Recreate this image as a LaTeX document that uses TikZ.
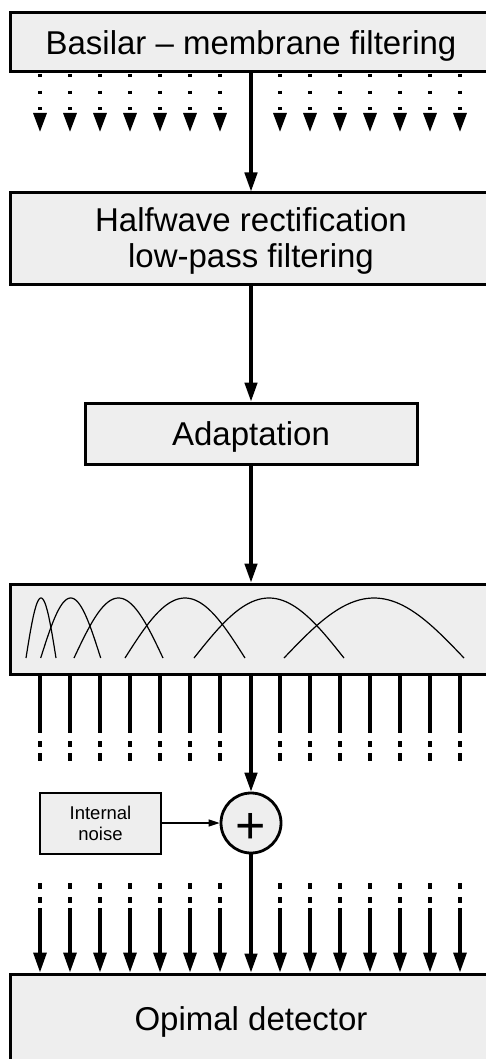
\documentclass[tikz,border=0pt]{standalone}
\usepackage{fontspec}
\setmainfont{Liberation Sans}
\usetikzlibrary{arrows.meta}
\definecolor{boxfill}{RGB}{238,238,238}
\begin{document}
\begin{tikzpicture}[x=1pt,y=-1pt,
  block/.style={draw, line width=3pt, fill=boxfill, inner sep=0pt,
    font=\fontsize{33}{37}\selectfont, text height=24pt, text depth=0pt},
  bigtext/.style={font=\fontsize{33}{37}\selectfont, inner sep=0pt, anchor=base},
  noisebox/.style={draw, line width=2pt, fill=boxfill, inner sep=0pt,
    align=center, font=\fontsize{18.5}{21}\selectfont},
  sumnode/.style={draw, circle, line width=2.8pt, fill=boxfill, inner sep=0pt,
    minimum size=60pt},
  plussign/.style={font=\fontsize{52}{52}\selectfont, inner sep=0pt, anchor=base},
  mainarrow/.style={line width=3.2pt, -{Triangle[length=19pt,width=12.5pt]}},
  thinarrow/.style={line width=1.2pt, -{Triangle[length=11pt,width=7pt]}},
  dotarrow/.style={line width=3.2pt, dash pattern=on 3.2pt off 13.4pt,
    -{Triangle[length=19pt,width=13pt]}},
  bandout/.style={line width=3.2pt,
    dash pattern=on 58pt off 8pt on 6pt off 6pt on 8pt off 60pt},
  bandin/.style={line width=3.2pt,
    dash pattern=on 6pt off 8pt on 6pt off 5pt on 200pt off 10pt,
    -{Triangle[length=20pt,width=13pt]}},
  response/.style={line width=1.2pt}]
\useasboundingbox (0,0) rectangle (486,1059);

% processing stages
\node[block, minimum width=482pt, minimum height=59pt] (bm) at (251,42.5)
  {Basilar – membrane filtering};
\node[block, minimum width=482pt, minimum height=91pt] (hw) at (251,238.5) {};
\node[bigtext] (hwa) at (251,231.7) {Halfwave rectification};
\node[bigtext] (hwb) at (251,267.7) {low-pass filtering};
\node[block, minimum width=332pt, minimum height=61pt] (ad) at (251,433.5)
  {Adaptation};
\node[block, minimum width=482pt, minimum height=90pt] (fb) at (251,629) {};
\node[sumnode] (sum) at (251,823) {};
\node[plussign] (plus) at (251,843) {+};
\node[noisebox, minimum width=121pt, minimum height=61pt] (nz) at (100.5,823)
  {Internal\\noise};
\node[block, minimum width=482pt, minimum height=88pt] (od) at (251,1018)
  {Opimal detector};

% modulation filter responses
\foreach \a/\b in {26/56, 40.7/100.7, 74/163, 125/245, 194/344, 284/464}
  \draw[response, domain=0:180, samples=60, variable=\t]
    plot ({\a+(\b-\a)*(\t/180)}, {658-60*sin(\t)});

% main signal path
\draw[mainarrow] (bm.south) -- (hw.north);
\draw[mainarrow] (hw.south) -- (ad.north);
\draw[mainarrow] (ad.south) -- (fb.north);
\draw[mainarrow] (fb.south) -- (sum.north);
\draw[thinarrow] (nz.east) -- (sum.west);
\draw[mainarrow] (sum.south) -- (od.north);

% parallel channels
\foreach \x [count=\i] in {40,70,100,130,160,190,220,280,310,340,370,400,430,460} {
  \coordinate (chtop\i) at (\x,74);
  \coordinate (chend\i) at (\x,132);
  \draw[dotarrow] (chtop\i) -- (chend\i);
  \coordinate (outtop\i) at (\x,675);
  \coordinate (outend\i) at (\x,761);
  \draw[bandout] (outtop\i) -- (outend\i);
  \coordinate (intop\i) at (\x,883);
  \draw[bandin] (intop\i) -- (intop\i |- od.north);
}
\end{tikzpicture}
\end{document}
